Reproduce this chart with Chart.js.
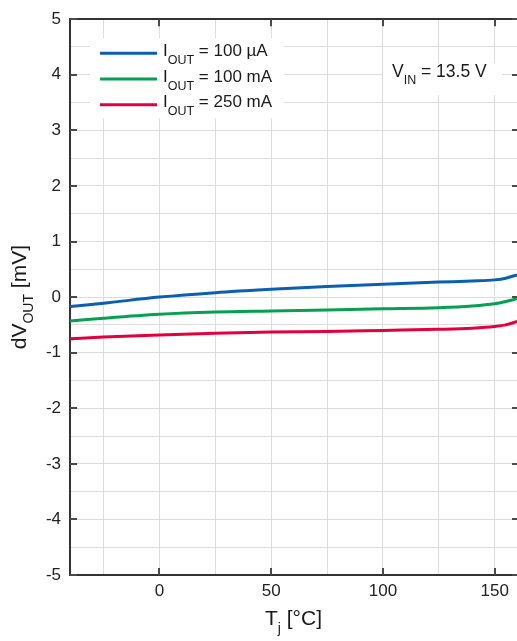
<!DOCTYPE html>
<html>
<head>
<meta charset="utf-8">
<script src="https://cdn.jsdelivr.net/npm/chart.js@4"></script>
<style>
  html, body { margin: 0; padding: 0; background: #fff; overflow: hidden; }
  canvas { display: block; }
</style>
</head>
<body>
<canvas id="chart" width="517" height="641"></canvas>
<script>
// junction temperature (°C) and output voltage deviation (mV)
const temps = [-40, -25, 0, 25, 50, 75, 100, 125, 140, 150, 155, 160];
const iout100uA = [-0.17, -0.11, 0.00, 0.08, 0.14, 0.19, 0.23, 0.27, 0.29, 0.31, 0.34, 0.40];
const iout100mA = [-0.43, -0.38, -0.31, -0.27, -0.25, -0.23, -0.21, -0.19, -0.16, -0.12, -0.08, -0.03];
const iout250mA = [-0.75, -0.72, -0.68, -0.65, -0.63, -0.62, -0.60, -0.58, -0.56, -0.53, -0.50, -0.44];

const seriesNames = ['I_OUT = 100 µA', 'I_OUT = 100 mA', 'I_OUT = 250 mA'];
const seriesColors = ['#0a5fb0', '#05a052', '#e2003f'];

const xGrid = [-40, -25, 0, 25, 50, 75, 100, 125, 150];
const xLabels = [0, 50, 100, 150];
const yGrid = [-5, -4.5, -4, -3.5, -3, -2.5, -2, -1.5, -1, -0.5, 0, 0.5, 1, 1.5, 2, 2.5, 3, 3.5, 4, 4.5, 5];
const yLabels = [-5, -4, -3, -2, -1, 0, 1, 2, 3, 4, 5];

const xTitle = 'T_j [°C]';
const yTitle = 'dV_OUT [mV]';
const note = 'V_IN = 13.5 V';

const FONT = '"Liberation Sans", Arial, sans-serif';

// "I_OUT = x" -> I with subscript OUT
let richParts = (str) => str.split(/_(\w+)/).map((t, i) => ({ t, sub: i % 2 === 1 }));

let richWidth = (ctx, str, size, subSize) => {
    let w = 0;
    for (let p of richParts(str)) {
        ctx.font = (p.sub ? subSize : size) + 'px ' + FONT;
        w += ctx.measureText(p.t).width;
    }
    return w;
};

let drawRich = (ctx, str, x, y, size, subSize, drop) => {
    let cx = x;
    ctx.textBaseline = 'alphabetic';
    ctx.textAlign = 'left';
    for (let p of richParts(str)) {
        ctx.font = (p.sub ? subSize : size) + 'px ' + FONT;
        ctx.fillText(p.t, cx, p.sub ? y + drop : y);
        cx += ctx.measureText(p.t).width;
    }
};

const decor = {
    id: 'decor',
    afterDraw(chart) {
        const { ctx, chartArea: a, scales: { x, y } } = chart;
        ctx.save();

        // inward tick marks on all four sides
        ctx.strokeStyle = '#4a4a4a';
        ctx.lineWidth = 2;
        ctx.beginPath();
        xLabels.forEach(v => {
            let px = Math.round(x.getPixelForValue(v));
            ctx.moveTo(px, a.bottom); ctx.lineTo(px, a.bottom - 7);
            ctx.moveTo(px, a.top); ctx.lineTo(px, a.top + 7);
        });
        yLabels.forEach(v => {
            let py = Math.round(y.getPixelForValue(v));
            ctx.moveTo(a.left, py); ctx.lineTo(a.left + 7, py);
            ctx.moveTo(a.right + 1, py); ctx.lineTo(a.right - 5, py);
        });
        ctx.stroke();

        // legend
        ctx.fillStyle = '#fff';
        ctx.fillRect(a.left + 20, a.top + 19, 194, 80);
        chart.data.datasets.forEach((ds, i) => {
            let ly = a.top + 34 + i * 25.8;
            ctx.strokeStyle = ds.borderColor;
            ctx.lineWidth = 3;
            ctx.beginPath();
            ctx.moveTo(a.left + 30, ly);
            ctx.lineTo(a.left + 87, ly);
            ctx.stroke();
            ctx.fillStyle = '#1a1a1a';
            drawRich(ctx, ds.label, a.left + 93, ly + 2.5, 17, 12.5, 8);
        });

        // input voltage note
        ctx.fillStyle = '#fff';
        ctx.fillRect(a.right - 134, a.top + 44, 119, 32);
        ctx.fillStyle = '#1a1a1a';
        drawRich(ctx, note, a.right - 125, a.top + 58, 17.5, 12.5, 7);

        // axis titles
        let w = richWidth(ctx, xTitle, 21, 14);
        drawRich(ctx, xTitle, (a.left + a.right) / 2 - w / 2, 625, 21, 14, 8);

        w = richWidth(ctx, yTitle, 21, 14);
        ctx.translate(26, (a.top + a.bottom) / 2);
        ctx.rotate(-Math.PI / 2);
        drawRich(ctx, yTitle, -w / 2, 0, 21, 14, 7);

        ctx.restore();
    }
};

let ctx = document.querySelector('#chart').getContext('2d');
const chart = new Chart(ctx, {
    type: 'line',
    data: {
        datasets: [iout100uA, iout100mA, iout250mA].map((vals, i) => ({
            label: seriesNames[i],
            data: temps.map((t, j) => ({ x: t, y: vals[j] })),
            borderColor: seriesColors[i],
            borderWidth: 3,
            pointRadius: 0,
            cubicInterpolationMode: 'monotone'
        }))
    },
    options: {
        responsive: false,
        animation: false,
        layout: { padding: 0 },
        plugins: { legend: { display: false }, tooltip: { enabled: false } },
        scales: {
            x: {
                type: 'linear', min: -40, max: 160,
                afterBuildTicks: s => { s.ticks = xGrid.map(v => ({ value: v })); },
                afterFit: s => { s.height = 66; },
                grid: { color: '#dcdcdc', drawTicks: false },
                border: { color: '#333', width: 2 },
                ticks: {
                    autoSkip: false, maxRotation: 0, padding: 6, color: '#222',
                    font: { size: 17, family: FONT },
                    callback: v => xLabels.includes(v) ? String(v) : ''
                }
            },
            xTop: {
                type: 'linear', position: 'top', min: -40, max: 160,
                afterFit: s => { s.height = 14; },
                grid: { display: false, drawTicks: false },
                border: { color: '#333', width: 2 },
                ticks: { display: false }
            },
            y: {
                type: 'linear', min: -5, max: 5,
                afterBuildTicks: s => { s.ticks = yGrid.map(v => ({ value: v })); },
                afterFit: s => { s.width = 70; },
                grid: { color: '#dcdcdc', drawTicks: false },
                border: { color: '#333', width: 2 },
                ticks: {
                    autoSkip: false, padding: 9, color: '#222',
                    font: { size: 17, family: FONT },
                    callback: v => yLabels.includes(v) ? String(v) : ''
                }
            }
        }
    },
    plugins: [decor]
});
</script>
</body>
</html>
